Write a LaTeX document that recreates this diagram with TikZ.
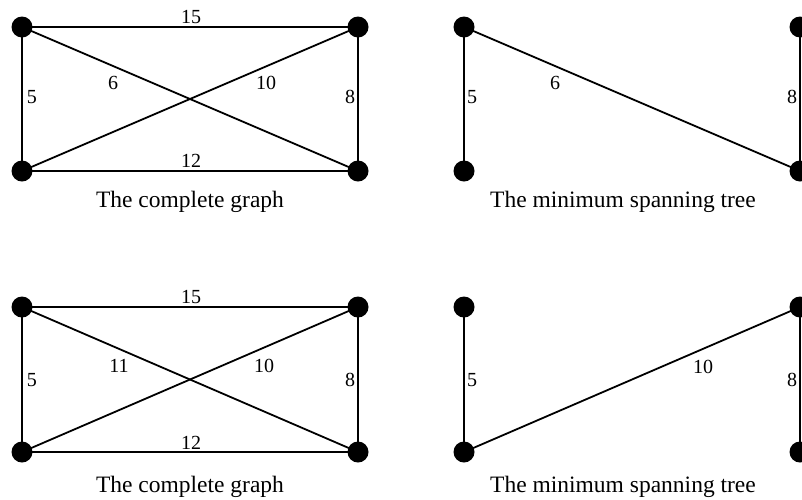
\documentclass[tikz,border=0pt]{standalone}
\usepackage{fontspec}
\setmainfont{Liberation Serif}
\begin{document}
\begin{tikzpicture}[x=1pt,y=-1pt,
  vtx/.style={circle,fill=black,draw=none,minimum size=21pt,inner sep=0pt},
  edge/.style={line width=1.8pt,black},
  wlab/.style={inner sep=0pt,font=\fontsize{20}{22}\selectfont},
  captxt/.style={inner sep=0pt,anchor=base,font=\fontsize{23.5}{26}\selectfont}]
\useasboundingbox (0,0) rectangle (802,499);
% ---------- top-left: complete graph ----------
\node[vtx] (a1) at (22,27) {};
\node[vtx] (b1) at (358,27) {};
\node[vtx] (c1) at (22,171) {};
\node[vtx] (d1) at (358,171) {};
\draw[edge] (a1.center) -- (b1.center);
\draw[edge] (c1.center) -- (d1.center);
\draw[edge] (a1.center) -- (c1.center);
\draw[edge] (b1.center) -- (d1.center);
\draw[edge] (a1.center) -- (d1.center);
\draw[edge] (c1.center) -- (b1.center);
\node[wlab] (l15a) at (191,16.5) {15};
\node[wlab] (l12a) at (191,160.5) {12};
\node[wlab] (l5a) at (32,97) {5};
\node[wlab] (l8a) at (350,97) {8};
\node[wlab] (l6a) at (113,83) {6};
\node[wlab] (l10a) at (266,83) {10};
\node[captxt] (capa) at (190,207) {The complete graph};
% ---------- top-right: MST ----------
\node[vtx] (a2) at (464,27) {};
\node[vtx] (b2) at (800,27) {};
\node[vtx] (c2) at (464,171) {};
\node[vtx] (d2) at (800,171) {};
\draw[edge] (a2.center) -- (c2.center);
\draw[edge] (b2.center) -- (d2.center);
\draw[edge] (a2.center) -- (d2.center);
\node[wlab] (l5b) at (472,97) {5};
\node[wlab] (l8b) at (792,97) {8};
\node[wlab] (l6b) at (555,83) {6};
\node[captxt] (capb) at (623,207) {The minimum spanning tree};
% ---------- bottom-left: complete graph ----------
\node[vtx] (a3) at (22,307) {};
\node[vtx] (b3) at (358,307) {};
\node[vtx] (c3) at (22,452) {};
\node[vtx] (d3) at (358,452) {};
\draw[edge] (a3.center) -- (b3.center);
\draw[edge] (c3.center) -- (d3.center);
\draw[edge] (a3.center) -- (c3.center);
\draw[edge] (b3.center) -- (d3.center);
\draw[edge] (a3.center) -- (d3.center);
\draw[edge] (c3.center) -- (b3.center);
\node[wlab] (l15c) at (191,297) {15};
\node[wlab] (l12c) at (191,443) {12};
\node[wlab] (l5c) at (32,380) {5};
\node[wlab] (l8c) at (350,380) {8};
\node[wlab] (l11c) at (119,366) {11};
\node[wlab] (l10c) at (264,366) {10};
\node[captxt] (capc) at (190,492) {The complete graph};
% ---------- bottom-right: MST ----------
\node[vtx] (a4) at (464,307) {};
\node[vtx] (b4) at (800,307) {};
\node[vtx] (c4) at (464,452) {};
\node[vtx] (d4) at (800,452) {};
\draw[edge] (a4.center) -- (c4.center);
\draw[edge] (b4.center) -- (d4.center);
\draw[edge] (c4.center) -- (b4.center);
\node[wlab] (l5d) at (472,380) {5};
\node[wlab] (l8d) at (792,380) {8};
\node[wlab] (l10d) at (703,367) {10};
\node[captxt] (capd) at (623,492) {The minimum spanning tree};
\end{tikzpicture}
\end{document}
